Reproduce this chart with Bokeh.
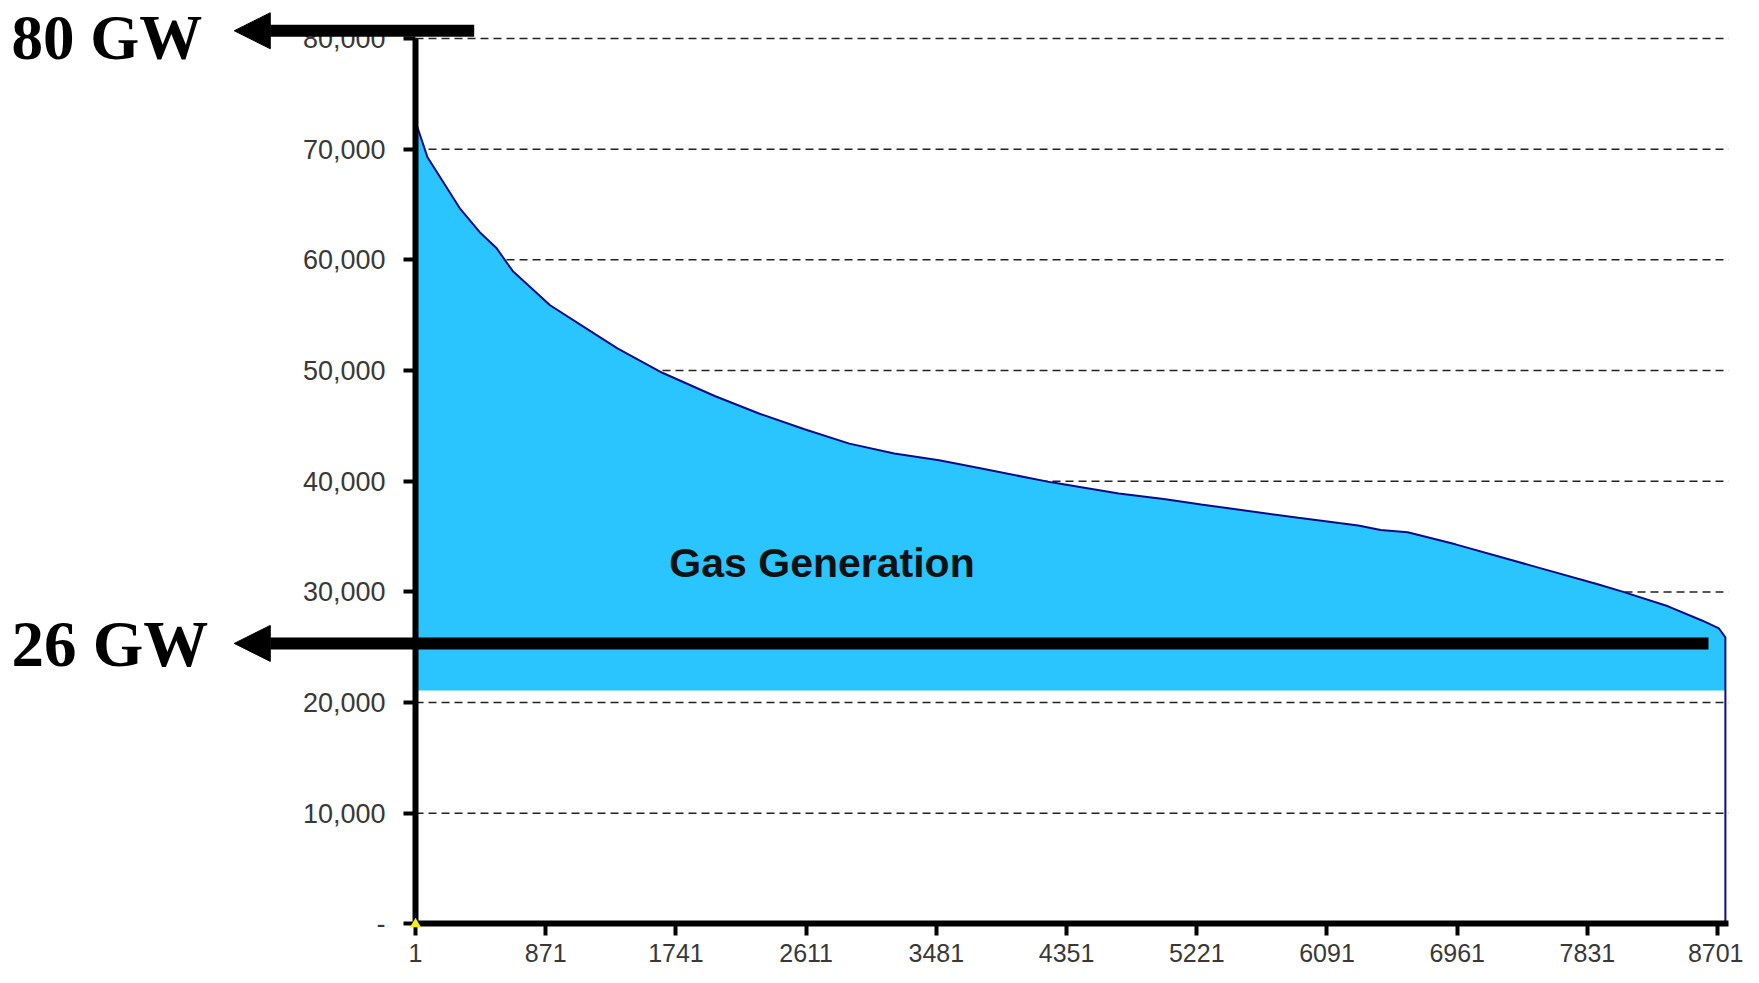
from bokeh.plotting import figure
from bokeh.models import Range1d, FixedTicker, Label, Arrow, NormalHead
from bokeh.embed import file_html
from bokeh.resources import INLINE

# ---- data (hourly load duration curve, MW) ----
hours = [1, 80, 300, 430, 540, 650, 900, 1120, 1350, 1650, 2000, 2300, 2600,
         2900, 3200, 3500, 3800, 4250, 4700, 5000, 5250, 5900, 6300, 6450,
         6630, 6950, 7450, 7900, 8060, 8370, 8600, 8710, 8753]
load_mw = [72500, 69300, 64600, 62500, 61100, 59000, 55900, 54000, 52000,
           49800, 47700, 46100, 44700, 43400, 42500, 41900, 41100, 39900,
           38900, 38400, 37900, 36700, 36000, 35600, 35400, 34300, 32400,
           30700, 30050, 28700, 27400, 26700, 25900]
fill_base_mw = 21100
end_hour = 8753
axis_end_hour = 8775

x_ticks = [1, 871, 1741, 2611, 3481, 4351, 5221, 6091, 6961, 7831, 8701]
y_ticks = [0, 10000, 20000, 30000, 40000, 50000, 60000, 70000, 80000]
y_tick_labels = ["-", "10,000", "20,000", "30,000", "40,000", "50,000",
                 "60,000", "70,000", "80,000"]
grid_levels = y_ticks[1:]

peak_label = "80 GW"
peak_level = 80700
base_label = "26 GW"
base_level = 25350
area_label = "Gas Generation"

origin_x = [1]
origin_y = [0]

line_x = hours + [end_hour]
line_y = load_mw + [0]

p = figure(width=1743, height=967, title=None,
           x_range=Range1d(-2772, 8874), y_range=Range1d(-3930, 83433),
           output_backend="svg", toolbar_location=None,
           min_border_left=0, min_border_right=0,
           min_border_top=0, min_border_bottom=0)
p.outline_line_color = None
p.background_fill_color = "white"
p.xgrid.visible = False
p.ygrid.visible = False

# dashed horizontal grid, from the y axis to the end of the x axis
p.segment(x0=[1] * len(grid_levels), y0=grid_levels,
          x1=[axis_end_hour] * len(grid_levels), y1=grid_levels,
          line_color="#222222", line_width=1.5, line_dash="8 5",
          level="underlay")

p.varea(x=hours, y1=[fill_base_mw] * len(hours), y2=load_mw,
        fill_color="#2AC4FE")
p.line(line_x, line_y, line_color="#0B0B8A", line_width=2)

tri = p.scatter(origin_x, origin_y, marker="triangle", size=11,
                fill_color="#F5EC1A", line_color=None)
tri.level = "overlay"

# axes
for ax in (p.xaxis[0], p.yaxis[0]):
    ax.axis_line_width = 6
    ax.axis_line_color = "black"
    ax.major_tick_line_width = 4
    ax.major_tick_line_color = "black"
    ax.major_tick_in = 0
    ax.major_tick_out = 12
    ax.minor_tick_line_color = None
    ax.major_label_text_font = "Liberation Sans"
    ax.major_label_text_color = "#383838"

p.xaxis.fixed_location = 0
p.xaxis.bounds = (1, axis_end_hour)
p.xaxis.ticker = FixedTicker(ticks=x_ticks)
p.xaxis.major_label_standoff = 8
p.xaxis.major_label_text_font_size = "25px"

p.yaxis.fixed_location = 1
p.yaxis.bounds = (0, 80000)
p.yaxis.ticker = FixedTicker(ticks=y_ticks)
p.yaxis.major_label_overrides = {t: s for t, s in zip(y_ticks, y_tick_labels)}
p.yaxis.major_label_standoff = 18
p.yaxis.major_label_text_font_size = "27px"

# annotations
p.add_layout(Arrow(end=NormalHead(size=36, fill_color="black", line_color="black"),
                   x_start=393, y_start=peak_level, x_end=-1210, y_end=peak_level,
                   line_width=12, line_color="black"))
p.add_layout(Arrow(end=NormalHead(size=36, fill_color="black", line_color="black"),
                   x_start=8640, y_start=base_level, x_end=-1210, y_end=base_level,
                   line_width=12, line_color="black"))

p.add_layout(Label(x=-2699, y=80050, text=peak_label, text_font="Liberation Serif",
                   text_font_style="bold", text_font_size="63px",
                   text_color="black", text_baseline="alphabetic"))
p.add_layout(Label(x=-2699, y=25270, text=base_label, text_font="Liberation Serif",
                   text_font_style="bold", text_font_size="65px",
                   text_color="black", text_baseline="alphabetic"))
p.add_layout(Label(x=1697, y=32600, text=area_label, text_font="Liberation Sans",
                   text_font_style="bold", text_font_size="41px",
                   text_color="#111111", text_baseline="alphabetic"))

open("out.html", "w").write(file_html(p, INLINE))
